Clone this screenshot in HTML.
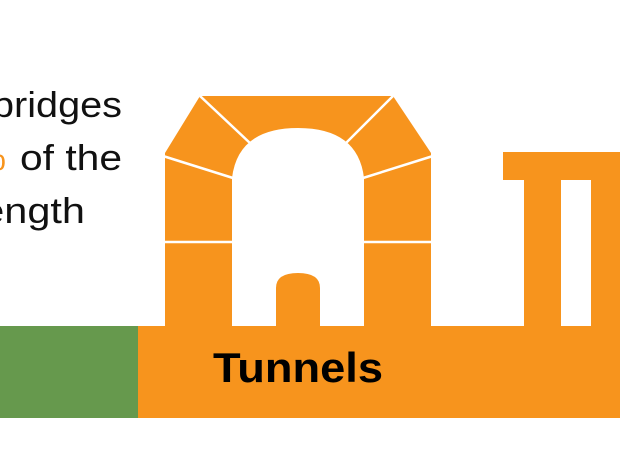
<!DOCTYPE html>
<html><head><style>
html,body{margin:0;padding:0;background:#fff;width:620px;height:450px;overflow:hidden}
svg{display:block}
</style></head><body>
<svg width="620" height="450" viewBox="0 0 620 450" xmlns="http://www.w3.org/2000/svg">
<g font-family="Liberation Sans, Arial, sans-serif" font-size="36" fill="#111">
<text x="-8" y="117" textLength="130" lengthAdjust="spacingAndGlyphs">bridges</text>
<text x="-26" y="170"><tspan fill="#f7941d">%</tspan></text>
<text x="20" y="170" textLength="102" lengthAdjust="spacingAndGlyphs">of the</text>
<text x="-28" y="223" textLength="113" lengthAdjust="spacingAndGlyphs">length</text>
</g>
<rect x="0" y="326" width="138" height="92" fill="#66994d"/>
<rect x="138" y="326" width="482" height="92" fill="#f7941d"/>
<path d="M165 330 L165 153 L200 96 L393 96 L431 153 L431 330 L364 330 L364 178 Q358 128 298 128 Q238 128 232 178 L232 330 Z" fill="#f7941d"/>
<path d="M276 330 L276 288 Q276 273 298 273 Q320 273 320 288 L320 330 Z" fill="#f7941d"/>
<g stroke="#fff" stroke-width="2.5">
<line x1="165" y1="242" x2="232" y2="242"/>
<line x1="364" y1="242" x2="431" y2="242"/>
<line x1="200" y1="96" x2="251" y2="144"/>
<line x1="393" y1="96" x2="345" y2="144"/>
<line x1="163" y1="156" x2="233" y2="178"/>
<line x1="433" y1="156" x2="363" y2="178"/>
</g>
<rect x="503" y="152" width="117" height="28" fill="#f7941d"/>
<rect x="524" y="178" width="37" height="150" fill="#f7941d"/>
<rect x="591" y="178" width="29" height="150" fill="#f7941d"/>
<text x="213" y="382" font-family="Liberation Sans, Arial, sans-serif" font-weight="bold" font-size="42" fill="#000" textLength="170" lengthAdjust="spacingAndGlyphs">Tunnels</text>
</svg>
</body></html>
